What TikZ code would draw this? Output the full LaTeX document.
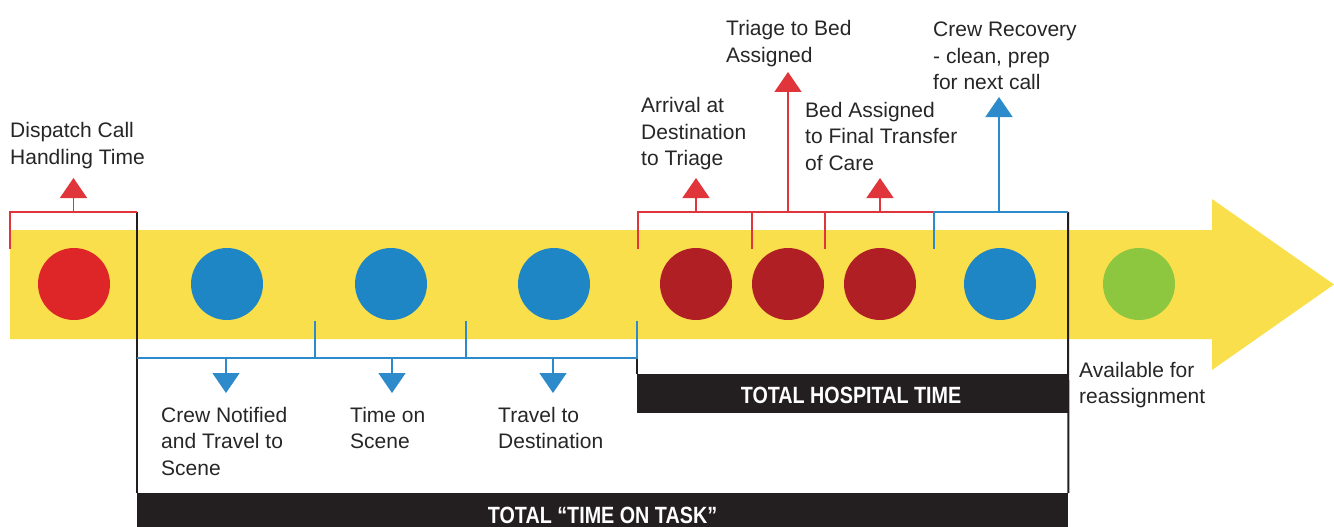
\documentclass[tikz,border=0pt]{standalone}
\usepackage{fontspec}
\setmainfont{Liberation Sans}
\newfontfamily\boldcond[FakeStretch=0.84]{Liberation Sans}
\usetikzlibrary{arrows.meta}
\definecolor{bandyellow}{HTML}{FADF4C}
\definecolor{dotred}{HTML}{DE2527}
\definecolor{dotblue}{HTML}{1F86C6}
\definecolor{dotdark}{HTML}{B01F24}
\definecolor{dotgreen}{HTML}{8DC63F}
\definecolor{boxblack}{HTML}{231F20}
\definecolor{txtgray}{HTML}{262626}
\definecolor{linered}{HTML}{E0353A}
\definecolor{lineblue}{HTML}{2D8ACB}
\tikzset{
  dot/.style={circle,inner sep=0pt,minimum size=72pt},
  redline/.style={draw=linered,line width=1.6pt},
  blueline/.style={draw=lineblue,line width=1.6pt},
  frame/.style={draw=boxblack,line width=2pt},
  uptip/.style={-{Triangle[width=27pt,length=20pt]}},
  lbl/.style={anchor=north west,inner sep=0pt,align=left,text=txtgray,
    font=\fontsize{21}{26.5}\selectfont},
  blackbox/.style={fill=boxblack,inner sep=0pt,anchor=north west},
  boxlbl/.style={anchor=base,inner sep=0pt,text=white,
    font=\boldcond\bfseries\fontsize{23.5}{26}\selectfont},
}
\begin{document}
\begin{tikzpicture}[x=1pt,y=-1pt]
\useasboundingbox (0,0) rectangle (1334,527);
% band with arrow head
\fill[bandyellow] (10,230) -- (1212,230) -- (1212,199) -- (1334,284.5)
  -- (1212,370) -- (1212,339) -- (10,339) -- cycle;
% dots
\node[dot,fill=dotred]   (d1) at (74,284) {};
\node[dot,fill=dotblue]  (d2) at (227,284) {};
\node[dot,fill=dotblue]  (d3) at (391,284) {};
\node[dot,fill=dotblue]  (d4) at (554,284) {};
\node[dot,fill=dotdark]  (d5) at (696,284) {};
\node[dot,fill=dotdark]  (d6) at (788,284) {};
\node[dot,fill=dotdark]  (d7) at (880,284) {};
\node[dot,fill=dotblue]  (d8) at (1000,284) {};
\node[dot,fill=dotgreen] (d9) at (1139,284) {};
% black boxes
\node[blackbox,minimum width=931pt,minimum height=34pt] (task) at (137,493) {};
\node[boxlbl] (tasklbl) at (602.5,523) {TOTAL “TIME ON TASK”};
\node[blackbox,minimum width=431pt,minimum height=39pt] (hosp) at (637,374) {};
\node[boxlbl] (hosplbl) at (851,403) {TOTAL HOSPITAL TIME};
% frame lines
\coordinate (fl) at (137,212);
\coordinate (fr) at (1068,212);
\draw[frame] (fl) -- (task.north west);
\draw[frame] (fr) -- (task.north east);
\coordinate (hb) at (637,358);
\draw[frame] (hb) -- (hosp.north west);
% dispatch bracket
\coordinate (a1) at (10,249);
\coordinate (a2) at (10,212);
\coordinate (am) at (73.5,212);
\coordinate (at) at (73.5,178);
\draw[redline] (a1) -- (a2) -- (fl);
\draw[redline,uptip,draw=linered,fill=dotred] (am) -- (at);
% hospital red brackets
\coordinate (h1b) at (638,249); \coordinate (h1) at (638,212);
\coordinate (h2b) at (752,249); \coordinate (h2) at (752,212);
\coordinate (h3b) at (825,249); \coordinate (h3) at (825,212);
\coordinate (h4b) at (934,249); \coordinate (h4) at (934,212);
\draw[redline] (h1b) -- (h1) -- (h4);
\draw[redline] (h2) -- (h2b);
\draw[redline] (h3) -- (h3b);
\draw[blueline] (h4b) -- (h4) -- (fr);
\coordinate (s1) at (696,212); \coordinate (t1) at (696,178);
\coordinate (s2) at (788,212); \coordinate (t2) at (788,72);
\coordinate (s3) at (880,212); \coordinate (t3) at (880,178);
\coordinate (s4) at (999,212); \coordinate (t4) at (999,97);
\draw[redline,uptip,fill=dotred] (s1) -- (t1);
\draw[redline,uptip,fill=dotred] (s2) -- (t2);
\draw[redline,uptip,fill=dotred] (s3) -- (t3);
\draw[blueline,uptip,fill=dotblue] (s4) -- (t4);
% lower blue bracket
\coordinate (b0) at (137,358);
\coordinate (b1) at (315,358); \coordinate (b1t) at (315,321);
\coordinate (b2) at (466,358); \coordinate (b2t) at (466,321);
\coordinate (b3t) at (637,321);
\draw[blueline] (b0) -- (hb) -- (b3t);
\draw[blueline] (b1) -- (b1t);
\draw[blueline] (b2) -- (b2t);
\coordinate (u1) at (226,358); \coordinate (v1) at (226,393);
\coordinate (u2) at (392,358); \coordinate (v2) at (392,393);
\coordinate (u3) at (553,358); \coordinate (v3) at (553,393);
\draw[blueline,uptip,fill=dotblue] (u1) -- (v1);
\draw[blueline,uptip,fill=dotblue] (u2) -- (v2);
\draw[blueline,uptip,fill=dotblue] (u3) -- (v3);
% labels
\node[lbl] (l1) at (10,122.5) {Dispatch Call\\Handling Time};
\node[lbl] (l2) at (641,97.5) {Arrival at\\Destination\\to Triage};
\node[lbl] (l3) at (726,20.5) {Triage to Bed\\Assigned};
\node[lbl] (l4) at (805,102) {Bed Assigned\\to Final Transfer\\of Care};
\node[lbl] (l5) at (933,22) {Crew Recovery\\- clean, prep\\for next call};
\node[lbl] (l6) at (1079,362) {Available for\\reassignment};
\node[lbl] (l7) at (161,407) {Crew Notified\\and Travel to\\Scene};
\node[lbl] (l8) at (350,407) {Time on\\Scene};
\node[lbl] (l9) at (498,407) {Travel to\\Destination};
\end{tikzpicture}
\end{document}
